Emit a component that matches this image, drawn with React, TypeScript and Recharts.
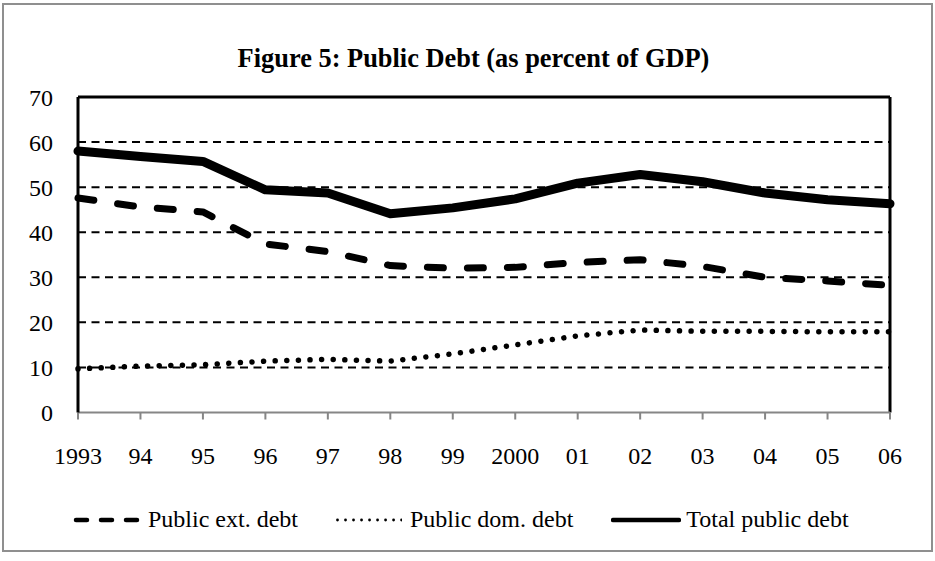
import React from 'react';
import { LineChart, Line, XAxis, YAxis, CartesianGrid, ReferenceLine, Legend } from 'recharts';

const years = [1993, 1994, 1995, 1996, 1997, 1998, 1999, 2000, 2001, 2002, 2003, 2004, 2005, 2006];
const yearLabels = ['1993', '94', '95', '96', '97', '98', '99', '2000', '01', '02', '03', '04', '05', '06'];
const extDebt = [47.6, 45.6, 44.5, 37.4, 35.7, 32.6, 32.0, 32.2, 33.3, 33.9, 32.4, 30.0, 29.2, 28.2];
const domDebt = [9.7, 10.3, 10.6, 11.4, 11.8, 11.4, 13.0, 15.0, 17.0, 18.3, 18.0, 18.0, 17.9, 17.9];
const totalDebt = [58.0, 56.8, 55.7, 49.4, 48.7, 44.1, 45.4, 47.4, 50.9, 52.8, 51.2, 48.7, 47.2, 46.3];
const yTicks = [0, 10, 20, 30, 40, 50, 60, 70];
const gridValues = [10, 20, 30, 40, 50, 60];
const legendOrder = ['ext', 'dom', 'total'];

const data = years.map((year, i) => ({
  year,
  ext: extDebt[i],
  dom: domDebt[i],
  total: totalDebt[i],
}));

const FONT = "'Times New Roman', 'Liberation Serif', serif";

// Legend swatches are drawn smaller than the plotted strokes
const legendIcons: Record<string, { width: number; gap: number; line: React.SVGProps<SVGLineElement> }> = {
  ext: { width: 68, gap: 7, line: { x1: 3, x2: 65, strokeWidth: 4.5, strokeDasharray: '11 14', strokeLinecap: 'round' } },
  dom: { width: 66, gap: 8, line: { x1: 1.5, x2: 66, strokeWidth: 2.8, strokeDasharray: '0.01 8', strokeLinecap: 'round' } },
  total: { width: 70, gap: 5, line: { x1: 2, x2: 68, strokeWidth: 4.5, strokeLinecap: 'round' } },
};

const renderLegend = (props: any) => {
  const { payload = [] } = props;
  const items = [...payload].sort(
    (a: any, b: any) => legendOrder.indexOf(a.dataKey) - legendOrder.indexOf(b.dataKey)
  );
  return (
    <div
      style={{
        display: 'flex',
        alignItems: 'center',
        paddingLeft: 73,
        fontFamily: FONT,
        fontSize: 24,
        color: '#000',
        whiteSpace: 'nowrap',
      }}
    >
      {items.map((entry: any) => {
        const icon = legendIcons[entry.dataKey as string];
        return (
          <div key={entry.dataKey} style={{ display: 'flex', alignItems: 'center', marginRight: 38 }}>
            <svg width={icon.width} height={12} style={{ display: 'block' }}>
              <line y1={6} y2={6} stroke="#000" {...icon.line} />
            </svg>
            <span style={{ marginLeft: icon.gap }}>{entry.value}</span>
          </div>
        );
      })}
    </div>
  );
};

export default function App() {
  return (
    <div style={{ position: 'absolute', left: 0, top: 0, width: 935, height: 561, background: '#fff' }}>
      <LineChart
        width={935}
        height={561}
        data={data}
        margin={{ top: 97, right: 45, bottom: 88.5, left: 0 }}
      >
        <CartesianGrid
          horizontal
          vertical={false}
          horizontalValues={gridValues}
          stroke="#000"
          strokeWidth={2}
          strokeDasharray="8 5.5"
        />
        <XAxis
          dataKey="year"
          type="number"
          domain={[1993, 2006]}
          ticks={years}
          interval={0}
          tickFormatter={(v: number) => yearLabels[years.indexOf(v)]}
          height={60}
          tickSize={7}
          tickMargin={27}
          axisLine={{ stroke: '#868686', strokeWidth: 2 }}
          tickLine={{ stroke: '#868686', strokeWidth: 2 }}
          tick={{ fill: '#000', fontSize: 24, fontFamily: FONT }}
        />
        <YAxis
          domain={[0, 70]}
          ticks={yTicks}
          interval={0}
          width={78}
          tickSize={0}
          tickMargin={25}
          tickLine={false}
          axisLine={{ stroke: '#000', strokeWidth: 3 }}
          tick={{ fill: '#000', fontSize: 24, fontFamily: FONT }}
        />
        <ReferenceLine y={70} stroke="#000" strokeWidth={3} />
        <ReferenceLine x={2006} stroke="#000" strokeWidth={3} />
        <Legend
          layout="horizontal"
          verticalAlign="middle"
          align="center"
          content={renderLegend}
          wrapperStyle={{ top: 506, left: 0, width: 935, height: 'auto' }}
        />
        <Line
          type="linear"
          dataKey="ext"
          name="Public ext. debt"
          stroke="#000"
          strokeWidth={7}
          strokeDasharray="16 24"
          strokeLinecap="round"
          strokeLinejoin="round"
          dot={false}
          activeDot={false}
          isAnimationActive={false}
        />
        <Line
          type="linear"
          dataKey="dom"
          name="Public dom. debt"
          stroke="#000"
          strokeWidth={5.5}
          strokeDasharray="0.01 11.6"
          strokeLinecap="round"
          strokeLinejoin="round"
          dot={false}
          activeDot={false}
          isAnimationActive={false}
        />
        <Line
          type="linear"
          dataKey="total"
          name="Total public debt"
          stroke="#000"
          strokeWidth={9}
          strokeLinecap="round"
          strokeLinejoin="round"
          dot={false}
          activeDot={false}
          isAnimationActive={false}
        />
      </LineChart>
      <div
        style={{
          position: 'absolute',
          top: 45,
          left: 0,
          width: 947,
          textAlign: 'center',
          fontFamily: FONT,
          fontSize: 26.4,
          fontWeight: 'bold',
          lineHeight: '26px',
          color: '#000',
          pointerEvents: 'none',
        }}
      >
        Figure 5: Public Debt (as percent of GDP)
      </div>
      <div
        style={{
          position: 'absolute',
          left: 2,
          top: 3,
          width: 931,
          height: 549,
          boxSizing: 'border-box',
          border: '2px solid #8f8f8f',
          pointerEvents: 'none',
        }}
      />
    </div>
  );
}
